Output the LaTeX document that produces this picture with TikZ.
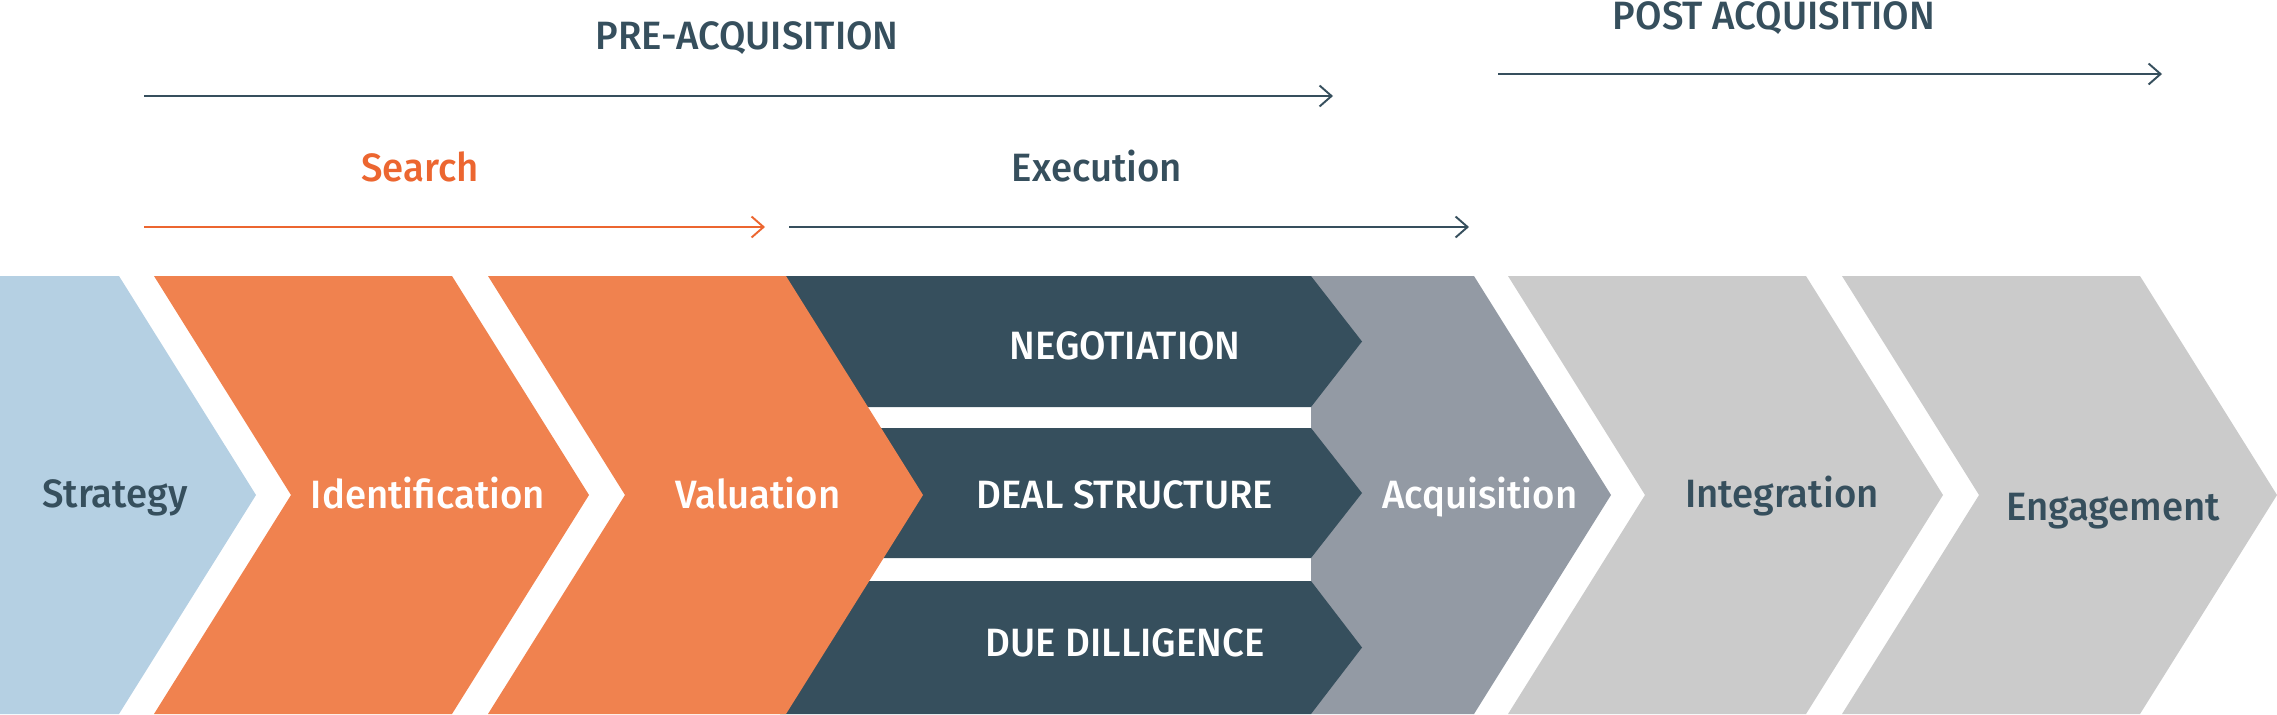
\documentclass[tikz,border=0pt]{standalone}
\usepackage{fontspec}
\setmainfont[BoldFont={Fira Sans Medium}, FakeStretch=0.97]{Fira Sans}
\usepackage{xcolor}
\usetikzlibrary{arrows.meta, positioning, calc}

\definecolor{slate}{HTML}{364F5D}
\definecolor{orng}{HTML}{F0824F}
\definecolor{srch}{HTML}{EC6630}
\definecolor{skyb}{HTML}{B5D0E3}
\definecolor{steel}{HTML}{939AA4}
\definecolor{pale}{HTML}{CBCBCB}

% chevron of the process band: left x, top width, colour
\newcommand{\chevron}[3]{\fill[#3] (#1,276) -- ++(#2,0) -- ++(137,219) -- ++(-137,219) -- ++(-#2,0) -- ++(137,-219) -- cycle;}
% one row of the execution block: top y, bottom y
\newcommand{\dealrow}[2]{\fill[slate] (780,#1) -- (1311,#1) -- (1362,{(#1+#2)/2}) -- (1311,#2) -- (780,#2) -- cycle;}

\begin{document}
\begin{tikzpicture}[x=0.02cm, y=-0.02cm, >={Straight Barb[length=0.24cm, width=0.42cm]}]
    \tikzstyle{lbl}   = [font=\fontsize{22.5}{26}\selectfont\bfseries, inner sep=0pt, anchor=base]
    \tikzstyle{phase} = [->, line width=1.1pt]

    \useasboundingbox (0,0) rectangle (2277,714);

    % process band
    \fill[skyb] (0,276) -- (119,276) -- (256,495) -- (119,714) -- (0,714) -- cycle;
    \chevron{154}{298}{orng}
    \fill[steel] (1311,276) -- (1474,276) -- (1611,495) -- (1474,714) -- (1311,714) -- cycle;
    \dealrow{276}{407}
    \dealrow{428}{558}
    \dealrow{581}{714}
    \chevron{488}{298}{orng}
    \chevron{1508}{298}{pale}
    \chevron{1842}{298}{pale}

    \node (strat)  [lbl, text=slate] at (115,507)  {Strategy};
    \node (ident)  [lbl, text=white] at (428,508)  {Identification};
    \node (valu)   [lbl, text=white] at (758,508)  {Valuation};
    \node (nego)   [lbl, text=white] at (1125,359) {NEGOTIATION};
    \node (deal)   [lbl, text=white] at (1125,508) {DEAL STRUCTURE};
    \node (due)    [lbl, text=white] at (1125,656) {DUE DILLIGENCE};
    \node (acq)    [lbl, text=white] at (1480,508) {Acquisition};
    \node (integ)  [lbl, text=slate] at (1782,507) {Integration};
    \node (engage) [lbl, text=slate] at (2113,520) {Engagement};

    % phase headings
    \node (pre)    [lbl, text=slate] at (747,49)   {PRE-ACQUISITION};
    \node (post)   [lbl, text=slate] at (1774,29)  {POST ACQUISITION};
    \node (search) [lbl, text=srch]  at (420,181)  {Search};
    \node (exec)   [lbl, text=slate] at (1097,181) {Execution};

    \coordinate (pre-a)    at (144,96);
    \coordinate (pre-b)    at (1333,96);
    \coordinate (post-a)   at (1498,74);
    \coordinate (post-b)   at (2162,74);
    \coordinate (search-a) at (144,227);
    \coordinate (search-b) at (765,227);
    \coordinate (exec-a)   at (789,227);
    \coordinate (exec-b)   at (1469,227);

    \draw [phase, slate] (pre-a) -- (pre-b);
    \draw [phase, slate] (post-a) -- (post-b);
    \draw [phase, srch]  (search-a) -- (search-b);
    \draw [phase, slate] (exec-a) -- (exec-b);
\end{tikzpicture}
\end{document}
